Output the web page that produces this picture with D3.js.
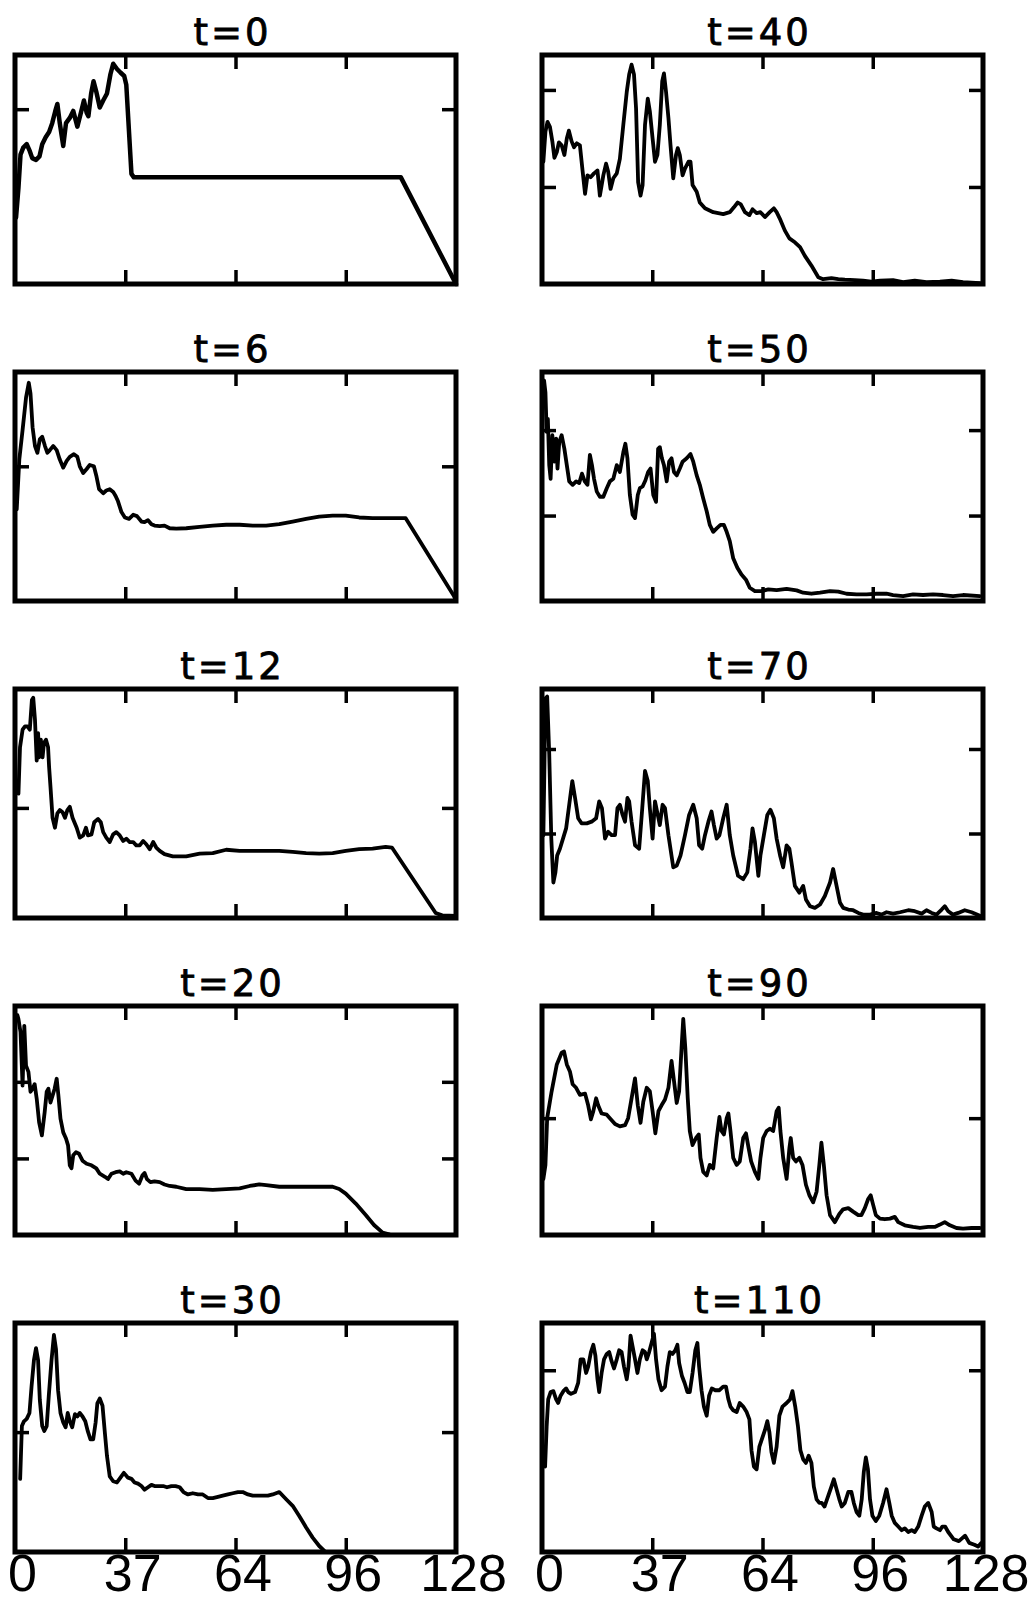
<!DOCTYPE html>
<html lang="en">
  <head>
    <meta charset="UTF-8" />
    <title>Profiles at successive times</title>
    <script src="https://d3js.org/d3.v7.min.js"></script>
    <style>
      body {
        margin: 0;
        background: #fff;
      }
    </style>
  </head>
  <body>
    <div id="chart"></div>
    <script>
      // panel times, left column first then right column
      const times = [0, 6, 12, 20, 30, 40, 50, 70, 90, 110]
      // y domain top of every panel (units where the lowest tick = 1)
      const yMaxes = [1.31, 1.7, 2.08, 2.99, 1.91, 2.36, 2.68, 2.71, 1.96, 1.26]
      const yTickSets = [[1], [1], [1], [1, 2], [1], [1, 2], [1, 2], [1, 2], [1], [1]]
      const xTicks = [32, 64, 96]
      const xLabelValues = [0, 32, 64, 96, 128]
      const xLabels = ["0", "37", "64", "96", "128"]

      const t0 = [[0.3,0.38],[1,0.55],[1.6,0.74],[2.4,0.78],[3.4,0.8],[4.3,0.76],[5,0.72],[6.1,0.71],[7.1,0.73],[7.9,0.8],[8.9,0.84],[9.9,0.87],[10.8,0.92],[11.7,0.99],[12.3,1.03],[13,0.92],[14,0.79],[14.8,0.92],[15.9,0.95],[16.9,0.99],[18.1,0.9],[19,0.97],[20,1.05],[20.8,0.98],[21.3,0.96],[22.1,1.09],[22.8,1.16],[23.6,1.1],[24.6,1.01],[25.6,1.05],[26.7,1.09],[27.7,1.2],[28.5,1.26],[29.6,1.23],[30.6,1.21],[31.7,1.19],[32.3,1.14],[33.8,0.63],[34.5,0.61],[112,0.61],[128,0]]

      const t6 = [[0.5,0.68],[1.25,1.05],[2.2,1.27],[3.2,1.51],[4,1.62],[4.5,1.54],[5.1,1.29],[5.8,1.15],[6.5,1.1],[7.2,1.2],[7.9,1.22],[8.7,1.15],[9.4,1.1],[10.1,1.12],[11.1,1.15],[12.1,1.12],[13,1.05],[14,0.99],[15,1.04],[15.9,1.07],[17.1,1.09],[18.1,1.07],[18.8,1],[19.8,0.95],[20.8,0.98],[21.7,1.01],[22.9,1],[23.6,0.93],[24.4,0.83],[25.6,0.8],[26.5,0.82],[27.5,0.83],[28.5,0.81],[29.2,0.78],[29.9,0.74],[30.9,0.66],[31.9,0.62],[33.1,0.61],[34.3,0.64],[35.4,0.63],[36.7,0.59],[37.6,0.585],[38.6,0.6],[39.6,0.57],[40.5,0.56],[42,0.556],[43.4,0.56],[44.9,0.54],[46.8,0.537],[49.7,0.54],[53.6,0.55],[57.4,0.56],[61.3,0.566],[65.2,0.566],[69,0.56],[72.9,0.56],[76.7,0.57],[80.6,0.59],[84.5,0.61],[88.3,0.627],[92.2,0.634],[96,0.634],[99.9,0.62],[103.8,0.615],[107.6,0.615],[113.4,0.615],[127.4,0.037],[128,0]]

      const t12 = [[1,1.13],[1.45,1.55],[2.2,1.71],[2.9,1.74],[3.6,1.74],[4.3,1.71],[4.9,1.98],[5.3,2.0],[5.8,1.8],[6.3,1.43],[6.7,1.68],[7,1.46],[7.5,1.62],[8,1.46],[8.4,1.59],[9,1.62],[9.6,1.55],[9.9,1.37],[10.3,1.19],[10.9,0.91],[11.6,0.82],[12.3,0.95],[13,0.98],[13.8,0.96],[14.5,0.91],[15.2,0.98],[15.9,1.01],[16.7,0.91],[17.9,0.82],[18.8,0.73],[19.8,0.75],[20.6,0.82],[21.2,0.75],[22.2,0.76],[23,0.87],[24.1,0.9],[24.9,0.87],[25.6,0.78],[26.5,0.73],[27.5,0.69],[28.5,0.76],[29.4,0.78],[30.4,0.75],[31.4,0.7],[32.3,0.72],[33.3,0.69],[34.3,0.69],[35.2,0.66],[36.2,0.66],[37.2,0.7],[38.1,0.67],[39.1,0.625],[40.1,0.69],[41,0.64],[42,0.61],[43.4,0.58],[45.8,0.56],[49.7,0.56],[53.6,0.585],[57.4,0.59],[61.3,0.62],[65.2,0.61],[69,0.61],[72.9,0.61],[76.7,0.61],[80.6,0.6],[84.5,0.59],[88.3,0.585],[92.2,0.59],[96,0.61],[99.9,0.625],[103.8,0.63],[107.6,0.646],[109.4,0.64],[122.1,0.046],[124,0.024],[128,0.018]]

      const t20 = [[0.7,2.87],[1,2.82],[1.6,2.65],[2.2,1.95],[2.7,2.73],[3.2,2.21],[3.9,2.13],[4.5,1.87],[5.1,1.91],[5.7,1.97],[6.3,1.78],[7,1.47],[7.8,1.3],[8.6,1.6],[9.2,1.87],[9.7,1.91],[10.3,1.73],[10.9,1.82],[11.5,1.91],[12.1,2.04],[12.6,1.82],[13.2,1.52],[14,1.34],[14.8,1.26],[15.4,1.17],[15.9,0.91],[16.4,0.87],[16.9,1.04],[17.7,1.08],[18.6,1.06],[19.6,0.97],[20.8,0.93],[22.2,0.91],[23.6,0.87],[24.6,0.8],[26.1,0.76],[27,0.73],[28,0.8],[29.2,0.82],[30.4,0.83],[31.4,0.8],[32.3,0.82],[33.8,0.8],[35,0.71],[36,0.67],[37,0.78],[37.6,0.81],[38.3,0.73],[39.3,0.69],[40.5,0.7],[42,0.69],[43.4,0.66],[44.9,0.64],[46.8,0.63],[49.7,0.6],[53.6,0.6],[57.4,0.59],[61.3,0.6],[65.2,0.61],[68.1,0.64],[70.9,0.66],[72.9,0.65],[76.7,0.63],[80.6,0.63],[84.5,0.63],[88.3,0.63],[92.2,0.63],[94.1,0.6],[96,0.54],[98.9,0.41],[101.8,0.26],[104.2,0.13],[106.7,0.03],[108.6,0.01]]

      const t30 = [[1.5,0.61],[2,1.05],[2.6,1.09],[3.4,1.11],[4.2,1.16],[4.8,1.38],[5.5,1.6],[6.1,1.7],[6.7,1.6],[7.2,1.27],[7.9,1.05],[8.5,1.01],[9.2,1.05],[9.8,1.3],[10.6,1.6],[11.3,1.81],[11.9,1.69],[12.5,1.35],[13.2,1.16],[14,1.08],[14.7,1.04],[15.3,1.16],[15.9,1.09],[16.6,1.04],[17.4,1.15],[18.1,1.13],[18.8,1.16],[19.6,1.13],[20.4,1.09],[21.1,1.01],[21.9,0.94],[22.7,0.94],[23.4,1.08],[23.9,1.24],[24.6,1.28],[25.4,1.22],[26.1,0.99],[26.7,0.8],[27.5,0.63],[28.5,0.59],[29.6,0.58],[30.6,0.62],[31.6,0.66],[32.8,0.62],[33.8,0.61],[34.7,0.58],[35.7,0.57],[36.7,0.55],[37.6,0.52],[38.6,0.54],[39.6,0.56],[40.5,0.55],[41.8,0.55],[43,0.55],[44.1,0.54],[45.4,0.55],[46.6,0.55],[47.8,0.54],[48.9,0.5],[50.2,0.48],[51.6,0.49],[53.1,0.48],[54.5,0.48],[56,0.45],[57.4,0.45],[58.9,0.46],[60.3,0.47],[61.8,0.48],[63.2,0.49],[64.7,0.5],[66.1,0.5],[67.6,0.48],[69,0.47],[70.5,0.47],[71.9,0.47],[73.4,0.47],[74.8,0.48],[76.7,0.5],[78.7,0.44],[80.6,0.385],[82.5,0.3],[84.5,0.205],[86.4,0.12],[88.3,0.05],[89.8,0.01]]

      const t40 = [[0.4,1.26],[1,1.57],[1.6,1.67],[2.3,1.62],[3,1.47],[3.6,1.3],[4.3,1.36],[4.9,1.46],[5.7,1.43],[6.5,1.33],[7.2,1.5],[7.8,1.58],[8.6,1.47],[9.3,1.41],[10.1,1.45],[11,1.43],[11.8,1.16],[12.5,0.93],[13.2,1.12],[14.1,1.1],[15.1,1.14],[16.1,1.17],[16.8,0.91],[17.8,1.12],[18.6,1.24],[19.2,1.16],[19.9,0.98],[20.7,1.09],[21.7,1.14],[22.6,1.29],[23.6,1.64],[24.6,1.98],[25.3,2.16],[26,2.26],[26.7,2.16],[27.3,1.81],[27.9,1.05],[28.6,0.91],[29.2,1.02],[29.9,1.64],[30.7,1.91],[31.3,1.78],[32.1,1.5],[32.8,1.26],[33.5,1.33],[34.2,1.64],[34.9,2.09],[35.4,2.17],[36,1.98],[36.7,1.71],[37.3,1.43],[38.1,1.09],[38.9,1.33],[39.4,1.4],[40,1.33],[40.8,1.12],[41.5,1.19],[42.5,1.26],[43.1,1.26],[43.7,1.02],[44.9,0.95],[45.8,0.84],[47.3,0.78],[49.7,0.74],[52.6,0.72],[54.5,0.74],[55.7,0.79],[56.8,0.84],[57.7,0.82],[58.9,0.74],[60.2,0.71],[61.1,0.77],[62.3,0.73],[63.4,0.74],[64.7,0.69],[66.1,0.74],[67.3,0.78],[68.1,0.74],[69.2,0.66],[70.5,0.55],[71.8,0.47],[73.4,0.43],[74.9,0.38],[76.3,0.29],[78.2,0.19],[80.2,0.07],[81.6,0.05],[84,0.06],[86,0.05],[87.9,0.045],[90.8,0.04],[93.2,0.035],[95.6,0.025],[98.1,0.035],[101.9,0.04],[104.8,0.02],[108.2,0.035],[111.6,0.02],[115.5,0.025],[118.9,0.035],[122.2,0.02],[127.1,0.01]]

      const t50 = [[0.2,2.52],[0.6,2.58],[1,2.44],[1.35,1.98],[1.7,2.13],[2.1,1.59],[2.5,1.43],[3,1.94],[3.6,1.63],[4.1,1.9],[4.5,1.55],[5,1.86],[5.7,1.94],[6.5,1.78],[7.2,1.59],[7.9,1.4],[8.9,1.36],[9.9,1.4],[10.8,1.38],[11.6,1.49],[12.4,1.4],[13.2,1.36],[13.9,1.71],[14.5,1.59],[15.1,1.43],[15.9,1.28],[16.8,1.22],[17.8,1.22],[18.8,1.32],[19.7,1.4],[20.7,1.43],[21.7,1.59],[22.6,1.51],[23.6,1.74],[24.2,1.84],[24.8,1.67],[25.5,1.24],[26.3,1.01],[27,0.97],[27.8,1.24],[28.4,1.32],[29.2,1.34],[30,1.41],[30.8,1.51],[31.5,1.55],[32.3,1.24],[33.1,1.16],[33.7,1.78],[34.2,1.8],[34.8,1.67],[35.4,1.59],[36.2,1.4],[36.9,1.63],[37.6,1.67],[38.3,1.51],[39.1,1.47],[40,1.55],[40.8,1.63],[42,1.67],[43.1,1.72],[43.9,1.63],[44.9,1.47],[45.8,1.36],[46.8,1.2],[47.8,1.05],[48.7,0.89],[49.7,0.81],[50.7,0.85],[51.8,0.89],[52.8,0.89],[53.6,0.81],[54.5,0.7],[55.5,0.5],[56.7,0.39],[57.9,0.31],[59.2,0.25],[60.3,0.155],[61.8,0.116],[63.7,0.116],[65.7,0.136],[68.1,0.128],[71,0.143],[73.9,0.124],[75.8,0.097],[78.2,0.085],[80.7,0.097],[83.6,0.116],[86,0.109],[88.4,0.085],[91.3,0.078],[94.2,0.078],[97.1,0.085],[100,0.085],[101.9,0.07],[104.8,0.058],[107.7,0.078],[110.6,0.07],[113.5,0.078],[116.4,0.07],[119.3,0.058],[122.2,0.07],[127.1,0.058]]

      const t70 = [[0.4,0.98],[1,2.6],[1.5,2.62],[2.1,1.94],[2.7,0.94],[3.3,0.42],[3.9,0.54],[4.4,0.74],[5.2,0.82],[7,1.06],[7.9,1.34],[8.8,1.62],[9.6,1.42],[10.5,1.18],[11.5,1.12],[13,1.12],[14.4,1.14],[15.7,1.18],[16.6,1.38],[17.4,1.3],[18.3,0.94],[19.2,1.02],[20.2,0.98],[21.2,0.98],[21.9,1.3],[22.6,1.34],[23.4,1.22],[24.1,1.14],[24.8,1.42],[25.3,1.38],[26,1.14],[27,0.86],[28.2,0.82],[29.1,1.3],[29.9,1.74],[30.7,1.62],[31.3,1.3],[32.1,0.94],[32.8,1.38],[33.6,1.22],[34.2,1.1],[35,1.34],[35.7,1.3],[36.7,0.98],[38.1,0.6],[39.1,0.62],[40.2,0.74],[41.5,0.98],[42.7,1.22],[43.9,1.34],[44.9,1.18],[45.6,0.86],[46.5,0.82],[47.3,0.98],[48.3,1.14],[49.2,1.26],[49.9,1.1],[50.7,0.94],[51.5,0.98],[52.6,1.18],[53.6,1.34],[54.5,0.98],[55.5,0.74],[56.9,0.5],[58.4,0.46],[59.6,0.54],[60.5,0.82],[61.1,1.06],[61.8,0.9],[62.8,0.5],[63.4,0.74],[64.4,0.98],[65.4,1.22],[66.3,1.28],[67.3,1.18],[68.1,0.94],[69.1,0.74],[70,0.6],[71,0.86],[71.8,0.82],[72.4,0.66],[73.4,0.38],[74.7,0.3],[75.8,0.38],[76.6,0.22],[77.8,0.14],[79.2,0.12],[80.7,0.16],[82.1,0.26],[83.6,0.42],[84.5,0.58],[85.5,0.38],[86.5,0.18],[87.4,0.12],[88.9,0.1],[90.3,0.092],[91.8,0.06],[93.2,0.04],[95.2,0.04],[97.1,0.06],[98.5,0.04],[100,0.068],[101.9,0.052],[103.9,0.068],[106.3,0.092],[108.2,0.08],[110.2,0.052],[111.6,0.092],[113.1,0.06],[114.5,0.04],[116,0.1],[116.9,0.14],[117.9,0.08],[119.3,0.04],[120.8,0.06],[122.7,0.092],[124.7,0.068],[127.1,0.028]]

      const t90 = [[0.4,0.48],[1,0.6],[1.5,1],[2.8,1.23],[4.3,1.46],[5.7,1.56],[6.4,1.57],[7.2,1.46],[8.1,1.4],[8.9,1.29],[9.9,1.26],[11,1.2],[12.5,1.21],[13.4,1.11],[14.2,0.99],[14.9,1.06],[15.7,1.17],[16.3,1.11],[17.3,1.04],[18.8,1.03],[19.7,1],[21.2,0.95],[22.6,0.93],[24.1,0.94],[25,1],[26,1.17],[27,1.34],[27.8,1.11],[28.6,0.96],[29.4,1.14],[30.4,1.26],[31.3,1.23],[32.1,1.06],[32.9,0.87],[33.8,1.06],[34.7,1.11],[35.7,1.16],[36.7,1.26],[37.6,1.49],[38.3,1.32],[39.1,1.13],[39.8,1.23],[40.5,1.6],[41,1.85],[41.6,1.6],[42.3,1.17],[42.9,0.89],[43.7,0.77],[44.7,0.83],[45.5,0.86],[46,0.66],[46.8,0.54],[47.8,0.51],[48.7,0.6],[49.7,0.57],[50.7,0.83],[51.5,1.01],[52.1,0.89],[52.8,0.86],[53.6,1],[54.1,1.04],[54.7,0.89],[55.5,0.66],[56.5,0.6],[57.4,0.63],[58.4,0.83],[59.2,0.87],[60,0.74],[60.7,0.63],[61.8,0.54],[62.8,0.48],[63.4,0.66],[64.2,0.83],[65.2,0.89],[66.2,0.91],[67.1,0.89],[68.1,1.06],[68.7,1.09],[69.2,0.89],[70,0.66],[71,0.48],[71.8,0.74],[72.2,0.83],[72.9,0.66],[73.7,0.63],[74.7,0.66],[75.6,0.6],[76.6,0.43],[77.6,0.34],[78.7,0.28],[79.7,0.37],[80.5,0.6],[81.1,0.79],[81.8,0.6],[82.6,0.34],[83.6,0.17],[85,0.11],[86.3,0.18],[87.4,0.22],[88.9,0.23],[90.3,0.2],[91.8,0.17],[92.7,0.17],[93.7,0.23],[94.7,0.31],[95.4,0.34],[96.1,0.26],[96.9,0.17],[98.1,0.14],[99.5,0.135],[101,0.14],[102.4,0.155],[103.4,0.11],[105.3,0.083],[107.7,0.069],[109.7,0.06],[112.1,0.069],[114,0.069],[115.5,0.089],[116.9,0.11],[118.4,0.083],[120.3,0.06],[122.2,0.054],[124.7,0.06],[127.1,0.06]]

      const t110 = [[0.9,0.47],[1.35,0.69],[1.8,0.84],[2.5,0.88],[3.3,0.885],[4.1,0.84],[4.7,0.82],[5.4,0.86],[6.2,0.885],[7,0.9],[7.6,0.88],[8.4,0.87],[9.6,0.88],[10.5,0.93],[11.2,1.06],[12,1.06],[12.8,0.985],[13.4,1.02],[14.2,1.1],[14.9,1.14],[15.5,1.08],[16.1,0.95],[16.6,0.88],[17.3,0.985],[18,1.06],[18.8,1.09],[19.5,1.1],[20.2,1.05],[20.9,1.01],[21.7,1.06],[22.4,1.11],[23.1,1.1],[23.8,1.02],[24.6,0.95],[25.1,1.02],[25.7,1.19],[26.3,1.13],[27,1.06],[27.7,0.985],[28.4,1.06],[29.2,1.11],[29.9,1.1],[30.4,1.06],[31.1,1.1],[31.8,1.15],[32.5,1.2],[33.1,1.06],[33.8,0.95],[34.7,0.89],[35.7,0.91],[36.4,1.02],[37.1,1.1],[37.9,1.09],[38.7,1.11],[39.3,1.14],[39.8,1.04],[40.6,0.97],[41.4,0.93],[42.2,0.88],[42.9,0.88],[43.7,0.985],[44.5,1.11],[45.1,1.15],[45.6,1.02],[46.3,0.89],[47,0.8],[47.8,0.75],[48.5,0.86],[49.3,0.9],[50.3,0.89],[51.5,0.89],[52.6,0.91],[53.4,0.91],[54.1,0.84],[54.7,0.8],[55.5,0.78],[56.5,0.77],[57.4,0.82],[58.4,0.8],[59.4,0.77],[60.2,0.73],[60.8,0.56],[61.5,0.47],[62.3,0.455],[63.1,0.58],[63.8,0.62],[64.7,0.67],[65.4,0.72],[66,0.66],[66.6,0.55],[67.3,0.49],[68.1,0.58],[68.9,0.75],[69.8,0.8],[71,0.82],[72,0.84],[72.7,0.885],[73.5,0.8],[74.3,0.69],[75,0.56],[75.8,0.51],[76.6,0.49],[77.4,0.53],[78.2,0.49],[78.9,0.36],[79.7,0.29],[80.5,0.27],[81.2,0.27],[82,0.25],[83.1,0.31],[84,0.36],[84.7,0.4],[85.5,0.345],[86.3,0.29],[87,0.25],[87.9,0.27],[88.9,0.33],[89.8,0.33],[90.5,0.27],[91.3,0.22],[92.1,0.2],[92.8,0.29],[93.4,0.44],[94,0.52],[94.6,0.455],[95.2,0.29],[95.9,0.2],[96.9,0.17],[97.9,0.2],[99,0.27],[100,0.345],[100.8,0.27],[101.5,0.2],[102.4,0.16],[103.4,0.14],[104.4,0.12],[105.3,0.13],[106.3,0.11],[107.3,0.12],[108.2,0.11],[109.2,0.14],[110.2,0.2],[111.1,0.25],[112.1,0.27],[113.1,0.22],[113.7,0.14],[114.5,0.13],[115.5,0.12],[116.2,0.14],[117,0.14],[117.9,0.11],[119.5,0.07],[121,0.06],[122.8,0.09],[124,0.05],[125.5,0.04],[126.6,0.03],[127.5,0.05]]

      const series = [t0, t6, t12, t20, t30, t40, t50, t70, t90, t110]

      const colLeft = [15, 542]
      const rowTop = 55,
        rowStep = 317,
        pw = 441,
        ph = 229,
        tickLen = 14

      const svg = d3
        .select("#chart")
        .append("svg")
        .attr("width", 1031)
        .attr("height", 1604)
        .style("background", "#fff")

      series.forEach((data, i) => {
        const col = i < 5 ? 0 : 1
        const row = i % 5
        const g = svg
          .append("g")
          .attr("transform", `translate(${colLeft[col]},${rowTop + row * rowStep})`)

        const x = d3.scaleLinear().domain([0, 128]).range([0, pw])
        const y = d3.scaleLinear().domain([0, yMaxes[i]]).range([ph, 0])

        // inward ticks on all four sides
        g.append("g")
          .attr("transform", `translate(0,${ph})`)
          .call(d3.axisBottom(x).tickValues(xTicks).tickSize(-tickLen).tickFormat(""))
        g.append("g").call(d3.axisTop(x).tickValues(xTicks).tickSize(-tickLen).tickFormat(""))
        g.append("g").call(d3.axisLeft(y).tickValues(yTickSets[i]).tickSize(-tickLen).tickFormat(""))
        g.append("g")
          .attr("transform", `translate(${pw},0)`)
          .call(d3.axisRight(y).tickValues(yTickSets[i]).tickSize(-tickLen).tickFormat(""))
        g.selectAll(".domain").remove()
        g.selectAll(".tick line").attr("stroke", "#000").attr("stroke-width", 3.5)

        const line = d3
          .line()
          .x(d => x(d[0]))
          .y(d => y(d[1]))

        g.append("path")
          .datum(data)
          .attr("d", line)
          .attr("fill", "none")
          .attr("stroke", "#000")
          .attr("stroke-width", i === 0 ? 4.5 : 3.8)
          .attr("stroke-linejoin", "round")
          .attr("stroke-linecap", "round")

        g.append("rect")
          .attr("width", pw)
          .attr("height", ph)
          .attr("fill", "none")
          .attr("stroke", "#000")
          .attr("stroke-width", 5)

        g.append("text")
          .attr("x", pw / 2 - 3)
          .attr("y", -10)
          .attr("text-anchor", "middle")
          .attr("font-family", "DejaVu Sans, sans-serif")
          .attr("font-size", 37)
          .attr("letter-spacing", 3)
          .attr("stroke", "#000")
          .attr("stroke-width", 0.8)
          .text(`t=${times[i]}`)

        if (row === 4) {
          const labels = g
            .append("g")
            .attr("transform", `translate(0,${ph})`)
            .call(
              d3
                .axisBottom(x)
                .tickValues(xLabelValues)
                .tickSize(0)
                .tickFormat((d, k) => xLabels[k])
            )
          labels.select(".domain").remove()
          labels
            .attr("font-family", "Liberation Sans, Arial, sans-serif")
            .attr("font-size", 52)
            .selectAll("text")
            .attr("fill", "#000")
            .attr("dy", null)
            .attr("y", 39)
            .attr("x", 7)
          // the right column's last label sits flush with the page edge
          if (col === 1) {
            labels
              .selectAll("text")
              .filter(d => d === 128)
              .attr("text-anchor", "end")
              .attr("x", 1029 - colLeft[1] - pw)
          }
        }
      })
    </script>
  </body>
</html>
